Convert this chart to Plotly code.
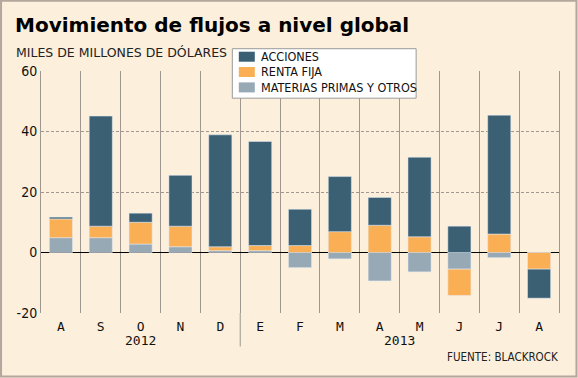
import plotly.graph_objects as go

months = ["A", "S", "O", "N", "D", "E", "F", "M", "A", "M", "J", "J", "A"]
years = ["2012", "2013"]
year_pos = [2, 8.5]
acciones = [0.6, 36.4, 3.0, 16.8, 37.0, 34.4, 12.0, 18.2, 9.2, 26.3, 8.7, 39.3, -9.6]
renta_fija = [6.2, 3.8, 7.2, 6.8, 1.3, 1.7, 2.3, 6.9, 9.0, 5.2, -8.7, 6.1, -5.5]
materias = [4.9, 4.9, 2.8, 1.9, 0.6, 0.6, -5.0, -2.1, -9.4, -6.4, -5.5, -1.7, 0.0]
y_ticks = [-20, 0, 20, 40, 60]
y_tick_labels = ["-20", "0", "20", "40", "60"]

series = [
    ("ACCIONES", acciones, "#3B6073"),
    ("RENTA FIJA", renta_fija, "#FBAF55"),
    ("MATERIAS PRIMAS Y OTROS", materias, "#97A9B5"),
]

W, H = 578, 378
L, R, T, B = 41, 18.5, 71.3, 64.5
PW, PH = W - L - R, H - T - B


def px_x(p):
    return (p - L) / PW


def px_y(p):
    return (H - B - p) / PH


BG = "#FCEFDC"
GRID = "#A09890"
SANS = "DejaVu Sans"
COND = "DejaVu Sans Condensed, DejaVu Sans"
MONO = "DejaVu Sans Mono"

x = list(range(len(months)))
fig = go.Figure()
# stack order from zero outward: materias, renta fija, acciones
for name, vals, col in reversed(series):
    fig.add_bar(x=x, y=vals, name=name, marker_color=col, showlegend=False, hoverinfo="skip")

fig.update_layout(
    width=W, height=H,
    margin=dict(l=L, r=R, t=T, b=B, pad=0),
    paper_bgcolor=BG, plot_bgcolor=BG,
    barmode="relative", bargap=0.42,
    font=dict(family=COND, size=12, color="#111"),
    showlegend=False,
    xaxis=dict(
        range=[-0.5, len(months) - 0.5], automargin=False,
        tickvals=x, ticktext=months, showgrid=False, zeroline=False,
        tickfont=dict(family=MONO, size=13, color="#111"), ticks="", ticklabelstandoff=4,
        minor=dict(tick0=0.5, dtick=1, showgrid=True, gridcolor=GRID, gridwidth=1),
    ),
    yaxis=dict(
        range=[-20, 60], tickvals=y_ticks, ticktext=y_tick_labels, showgrid=True, automargin=False,
        gridcolor=GRID, griddash="3px,2px", gridwidth=1,
        zeroline=True, zerolinecolor="#000", zerolinewidth=1.5,
        showline=True, mirror=True, linecolor=GRID, linewidth=1,
        tickfont=dict(family=COND, size=14, color="#111"), ticks="",
    ),
)

# titles
fig.add_annotation(text="<b>Movimiento de flujos a nivel global</b>", xref="paper", yref="paper",
                   x=px_x(13), y=px_y(11), xanchor="left", yanchor="top", showarrow=False,
                   font=dict(family=SANS, size=20, color="#000"))
fig.add_annotation(text="MILES DE MILLONES DE DÓLARES", xref="paper", yref="paper",
                   x=px_x(14), y=px_y(53), xanchor="left", yanchor="middle", showarrow=False,
                   font=dict(family=SANS, size=12.5, color="#222"))
fig.add_annotation(text="FUENTE: BLACKROCK", xref="paper", yref="paper",
                   x=px_x(561), y=px_y(358), xanchor="right", yanchor="middle", showarrow=False,
                   font=dict(family=COND, size=11.5, color="#222"))
for yr, xc in zip(years, year_pos):
    fig.add_annotation(text=yr, x=xc, xref="x", yref="paper", y=px_y(341), yanchor="middle",
                       showarrow=False, font=dict(family=MONO, size=13, color="#111"))

# separator between years
fig.add_shape(type="line", xref="x", yref="paper", x0=4.5, x1=4.5, y0=0, y1=px_y(347),
              line=dict(color=GRID, width=1))

# manual legend
fig.add_shape(type="rect", xref="paper", yref="paper", x0=px_x(232.5), x1=px_x(416.5),
              y0=px_y(98.5), y1=px_y(49), fillcolor="white", line=dict(color="#9A9A9A", width=1),
              layer="above")
row_y = [57, 72.3, 87.7]
for (name, vals, col), ry in zip(series, row_y):
    fig.add_shape(type="rect", xref="paper", yref="paper", x0=px_x(239), x1=px_x(255),
                  y0=px_y(ry + 5), y1=px_y(ry - 5), fillcolor=col, line=dict(width=0),
                  layer="above")
    fig.add_annotation(text=name, xref="paper", yref="paper", x=px_x(259), y=px_y(ry),
                       xanchor="left", yanchor="middle", showarrow=False,
                       font=dict(family=COND, size=12.5, color="#111"))

# outer frame
fig.add_shape(type="rect", xref="paper", yref="paper", x0=px_x(1), x1=px_x(W - 1),
              y0=px_y(H - 1), y1=px_y(1), line=dict(color="#B3A69C", width=2), layer="below")

fig.write_html("out.html", config={"displayModeBar": False, "staticPlot": True},
               post_script="document.body.style.margin='0';document.body.style.overflow='hidden';")
